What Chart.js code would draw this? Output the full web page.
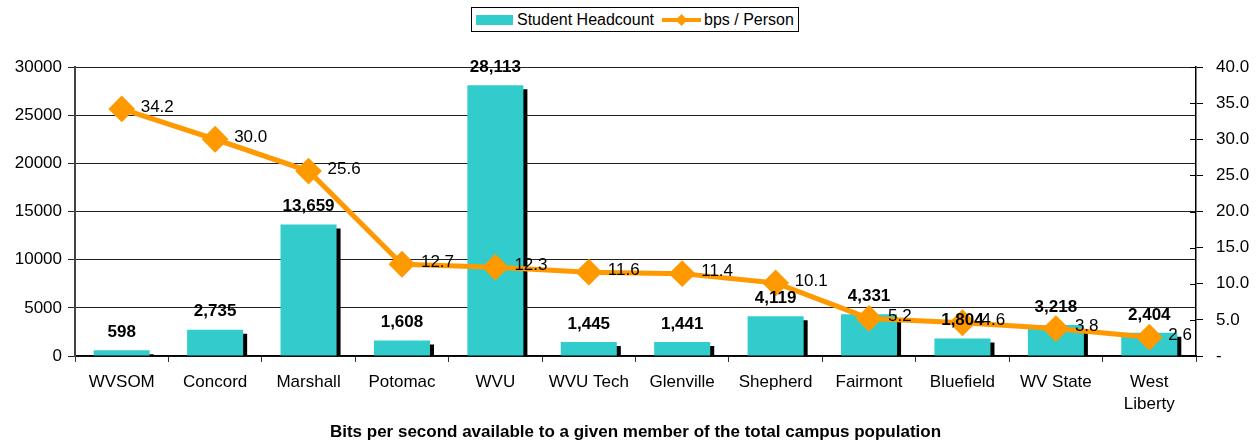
<!DOCTYPE html>
<html lang="en">
<head>
    <meta charset="UTF-8">
    <title>Bits per second per campus member</title>
    <script src="https://cdn.jsdelivr.net/npm/chart.js"></script>
    <style>
        body { margin: 0; background: #fff; font-family: "Liberation Sans", Arial, sans-serif; }
        #wrap { position: relative; width: 1257px; height: 443px; }
        #legend {
            position: absolute; left: 471px; top: 7px; width: 328px; height: 25px;
            box-sizing: border-box; border: 1px solid #000; background: #fff;
            display: flex; align-items: center; font-size: 16px; color: #000;
            padding-left: 4px; z-index: 2;
        }
        .swatch { width: 37px; height: 10px; background: #33CCCC; margin-right: 4px; }
        #legend svg { margin: 0 3px 0 8px; }
    </style>
</head>
<body>
    <div id="wrap">
        <div id="legend">
            <span class="swatch"></span><span>Student Headcount</span>
            <svg width="39" height="14" viewBox="0 0 39 14">
                <line x1="0" y1="7" x2="39" y2="7" stroke="#FF9900" stroke-width="4"/>
                <polygon points="19.5,1 25.5,7 19.5,13 13.5,7" fill="#FF9900"/>
            </svg><span>bps / Person</span>
        </div>
        <canvas id="chart" width="1257" height="443"></canvas>
    </div>

    <script>
        const campuses = ['WVSOM', 'Concord', 'Marshall', 'Potomac', 'WVU', 'WVU Tech', 'Glenville',
            'Shepherd', 'Fairmont', 'Bluefield', 'WV State', ['West', 'Liberty']];
        const headcount = [598, 2735, 13659, 1608, 28113, 1445, 1441, 4119, 4331, 1804, 3218, 2404];
        const bpsPerPerson = [34.2, 30.0, 25.6, 12.7, 12.3, 11.6, 11.4, 10.1, 5.2, 4.6, 3.8, 2.6];

        const FONT = '"Liberation Sans", Arial, sans-serif';
        const TEAL = '#33CCCC';
        const ORANGE = '#FF9900';

        // black drop shadow on the bars, like the spreadsheet original
        const barShadow = {
            id: 'barShadow',
            beforeDatasetDraw(chart, args) {
                if (args.index !== 0) return;
                const ctx = chart.ctx;
                ctx.save();
                ctx.shadowColor = '#000';
                ctx.shadowOffsetX = 4;
                ctx.shadowOffsetY = 4;
                ctx.shadowBlur = 0;
            },
            afterDatasetDraw(chart, args) {
                if (args.index === 0) chart.ctx.restore();
            }
        };

        // right axis tick marks cross the axis line
        const innerTicks = {
            id: 'innerTicks',
            beforeDatasetsDraw(chart) {
                const scale = chart.scales.y1;
                const ctx = chart.ctx;
                ctx.save();
                ctx.strokeStyle = '#000';
                ctx.lineWidth = 1;
                scale.ticks.forEach((t, i) => {
                    const y = Math.round(scale.getPixelForTick(i)) + 0.5;
                    ctx.beginPath();
                    ctx.moveTo(scale.left - 6, y);
                    ctx.lineTo(scale.left, y);
                    ctx.stroke();
                });
                ctx.restore();
            }
        };

        const valueLabels = {
            id: 'valueLabels',
            afterDatasetsDraw(chart) {
                const ctx = chart.ctx;
                ctx.save();
                ctx.fillStyle = '#000';
                ctx.textBaseline = 'middle';

                ctx.font = 'bold 17px ' + FONT;
                ctx.textAlign = 'center';
                chart.getDatasetMeta(0).data.forEach((bar, i) => {
                    ctx.fillText(headcount[i].toLocaleString('en-US'), bar.x, bar.y - 18);
                });

                ctx.font = '17px ' + FONT;
                ctx.textAlign = 'left';
                chart.getDatasetMeta(1).data.forEach((pt, i) => {
                    ctx.fillText(bpsPerPerson[i].toFixed(1), pt.x + 19, pt.y - 2);
                });
                ctx.restore();
            }
        };

        new Chart(document.getElementById('chart'), {
            type: 'bar',
            data: {
                labels: campuses,
                datasets: [
                    {
                        type: 'bar',
                        label: 'Student Headcount',
                        data: headcount,
                        backgroundColor: TEAL,
                        yAxisID: 'y',
                        categoryPercentage: 1,
                        barPercentage: 0.6,
                        clip: 0,
                        order: 1
                    },
                    {
                        type: 'line',
                        label: 'bps / Person',
                        data: bpsPerPerson,
                        borderColor: ORANGE,
                        backgroundColor: ORANGE,
                        borderWidth: 5,
                        pointStyle: 'rectRot',
                        pointRadius: 12,
                        pointBorderWidth: 2,
                        pointBackgroundColor: ORANGE,
                        pointBorderColor: ORANGE,
                        tension: 0,
                        yAxisID: 'y1',
                        clip: false,
                        order: 0
                    }
                ]
            },
            options: {
                responsive: false,
                animation: false,
                devicePixelRatio: 1,
                layout: { padding: { top: 67, left: 0, right: 0, bottom: 0 } },
                plugins: {
                    legend: { display: false },
                    tooltip: { enabled: false }
                },
                scales: {
                    x: {
                        grid: { offset: true, drawOnChartArea: false, color: '#333', tickLength: 6 },
                        border: { color: '#000', width: 1.5 },
                        ticks: { color: '#000', font: { family: FONT, size: 17, lineHeight: 1.25 }, padding: 10,
                            maxRotation: 0, autoSkip: false },
                        title: {
                            display: true,
                            text: 'Bits per second available to a given member of the total campus population',
                            color: '#000',
                            font: { family: FONT, size: 17, weight: 'bold' },
                            padding: { top: 0, bottom: 0 }
                        },
                        afterFit(scale) { scale.height = 87; }
                    },
                    y: {
                        position: 'left',
                        min: 0,
                        max: 30000,
                        ticks: { stepSize: 5000, color: '#000', font: { family: FONT, size: 17 }, padding: 6,
                            callback: v => String(v) },
                        grid: { color: '#222', lineWidth: 1, tickLength: 7 },
                        border: { color: '#444', width: 2 },
                        afterFit(scale) { scale.width = 75; }
                    },
                    y1: {
                        position: 'right',
                        min: 0,
                        max: 40,
                        ticks: { stepSize: 5, color: '#000', font: { family: FONT, size: 17 }, padding: 13,
                            callback: v => v === 0 ? '-' : v.toFixed(1) },
                        grid: { drawOnChartArea: false, color: '#000', tickLength: 7 },
                        border: { color: '#000', width: 1.5 },
                        afterFit(scale) { scale.width = 61; }
                    }
                }
            },
            plugins: [barShadow, innerTicks, valueLabels]
        });
    </script>
</body>
</html>
